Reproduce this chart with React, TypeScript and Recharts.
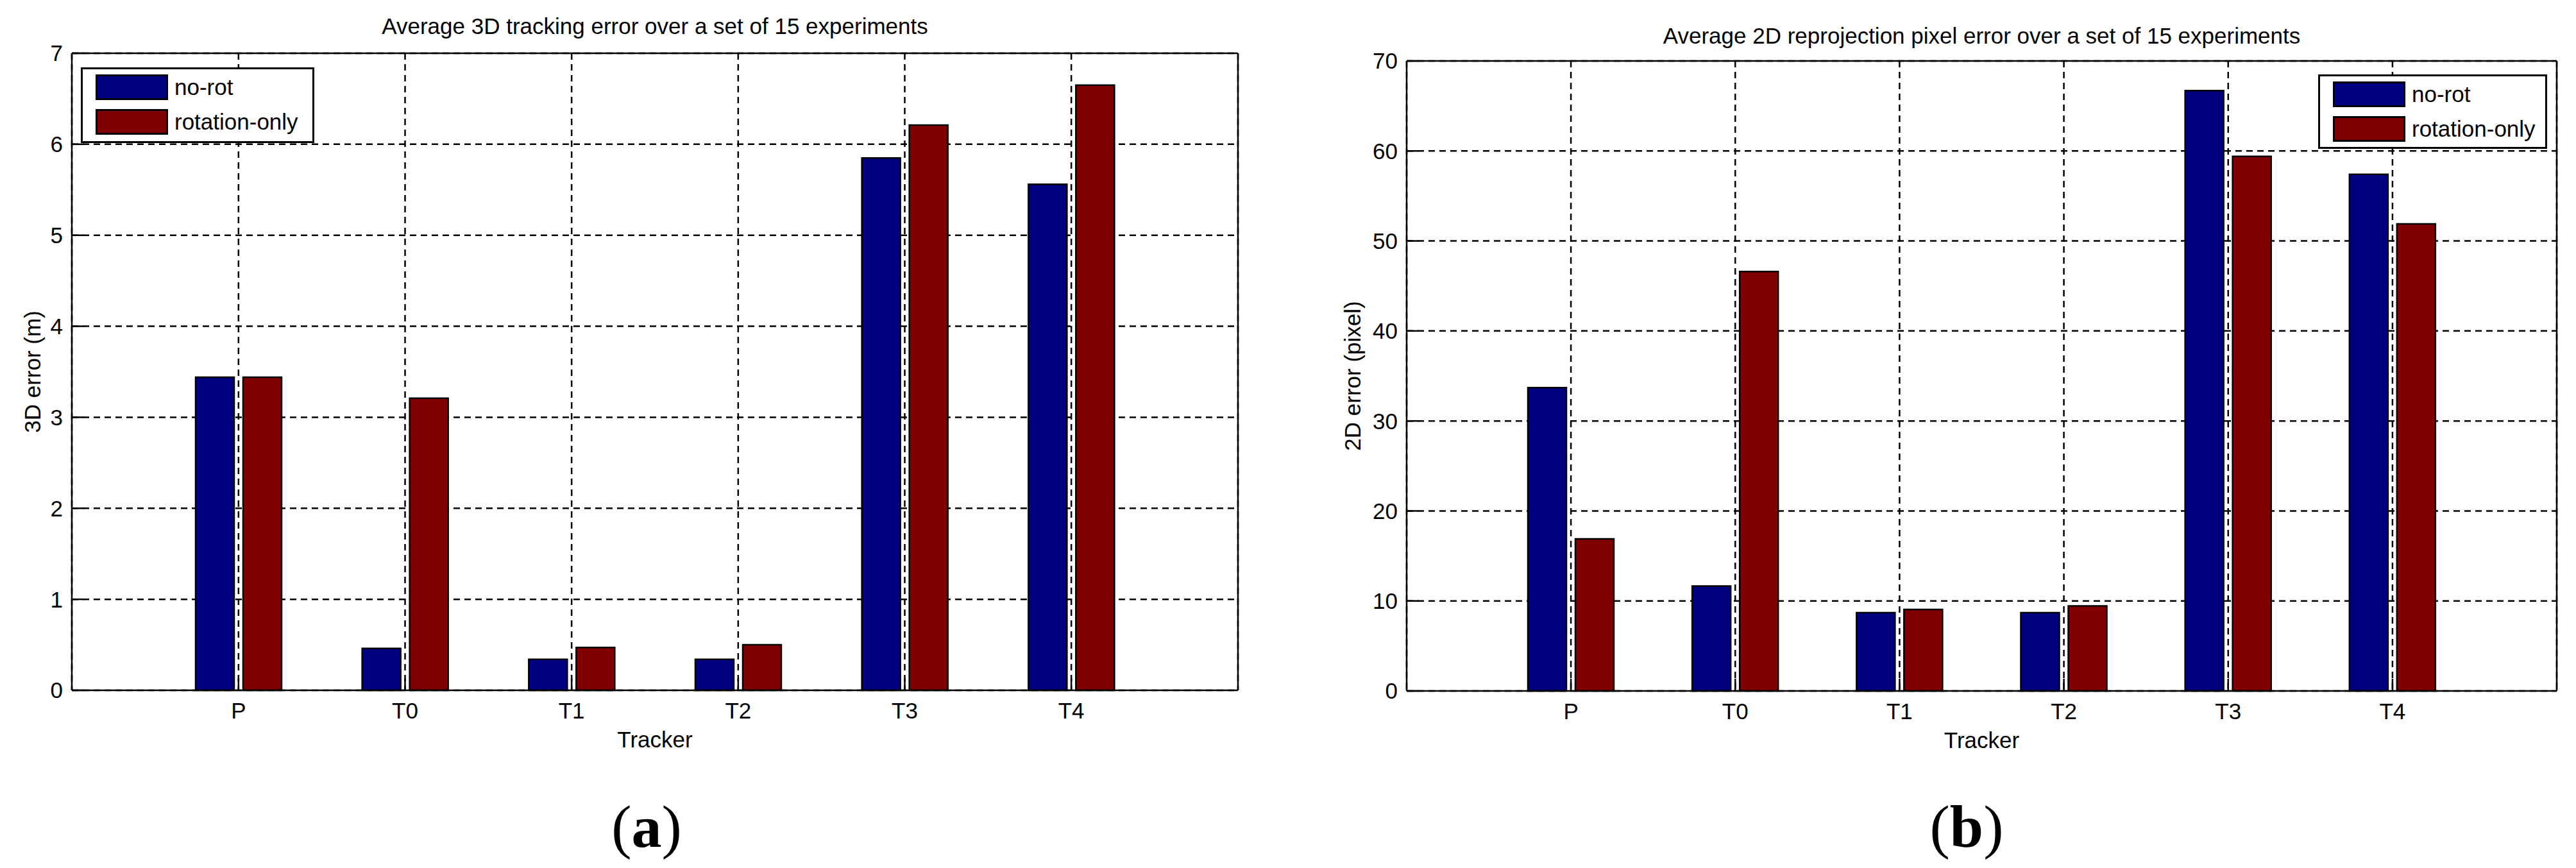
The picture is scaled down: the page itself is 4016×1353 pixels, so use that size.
import React from "react";
import { Bar, BarChart, CartesianGrid, Label, Legend, XAxis, YAxis } from "recharts";

// Two MATLAB-style grouped bar panels: (a) 3D tracking error, (b) 2D reprojection error.
const trackers = ["P", "T0", "T1", "T2", "T3", "T4"];
const seriesNames = ["no-rot", "rotation-only"];
const seriesColors = ["#000080", "#800000"];

const error3dNoRot = [3.44, 0.46, 0.34, 0.34, 5.85, 5.56];
const error3dRotOnly = [3.44, 3.21, 0.47, 0.5, 6.21, 6.65];
const error2dNoRot = [33.7, 11.65, 8.7, 8.7, 66.7, 57.4];
const error2dRotOnly = [16.9, 46.6, 9.05, 9.45, 59.4, 51.9];

const ticks3d = [0, 1, 2, 3, 4, 5, 6, 7];
const ticks2d = [0, 10, 20, 30, 40, 50, 60, 70];

const FONT = '"Liberation Sans", Arial, Helvetica, sans-serif';
const SERIF = '"Liberation Serif", "Times New Roman", Times, serif';
const PANEL_W = 2008;
const PANEL_H = 1353;

type Margin = { top: number; right: number; bottom: number; left: number };

type PanelProps = {
  left: number;
  noRot: number[];
  rotOnly: number[];
  ticks: number[];
  title: string;
  yLabel: string;
  letter: string;
  margin: Margin;
  padX: number;
  yLabelOffset: number;
  titleTop: number;
  letterX: number;
  legend: { left: number; top: number; width: number; height: number };
};

function LegendBox({ payload, width, height }: { payload?: any[]; width: number; height: number }) {
  return (
    <div
      style={{
        boxSizing: "border-box",
        width,
        height,
        border: "3px solid #000",
        background: "#fff",
        padding: "8px 0 0 20px",
        fontFamily: FONT,
        fontSize: 35,
        color: "#000",
      }}
    >
      {(payload ?? []).map((p) => (
        <div key={p.value} style={{ display: "flex", alignItems: "center", height: 40, marginBottom: 14 }}>
          <span
            style={{
              boxSizing: "border-box",
              width: 113,
              height: 40,
              background: p.color,
              border: "3px solid #000",
            }}
          />
          <span style={{ marginLeft: 10, lineHeight: "40px", whiteSpace: "nowrap" }}>{p.value}</span>
        </div>
      ))}
    </div>
  );
}

function Panel(props: PanelProps) {
  const { margin, ticks } = props;
  const rows = trackers.map((t, i) => ({ tracker: t, noRot: props.noRot[i], rotOnly: props.rotOnly[i] }));
  const yMax = ticks[ticks.length - 1];
  const plotLeft = margin.left + 100;
  const plotRight = PANEL_W - margin.right - 10;
  const centerX = (plotLeft + plotRight) / 2;
  const tickStyle = { fill: "#000", fontSize: 35, fontFamily: FONT };
  const line = { stroke: "#000", strokeWidth: 2.5 };

  return (
    <div style={{ position: "absolute", left: props.left, top: 0, width: PANEL_W, height: PANEL_H }}>
      <div
        style={{
          position: "absolute",
          left: centerX,
          top: props.titleTop,
          transform: "translateX(-50%)",
          fontFamily: FONT,
          fontSize: 35,
          lineHeight: "35px",
          whiteSpace: "nowrap",
          color: "#000",
        }}
      >
        {props.title}
      </div>
      <BarChart width={PANEL_W} height={PANEL_H} data={rows} margin={margin} barSize={60} barGap={14}>
        <CartesianGrid stroke="#000" strokeWidth={2.5} strokeDasharray="10 7" />
        <XAxis
          dataKey="tracker"
          height={100}
          interval={0}
          padding={{ left: props.padX, right: props.padX }}
          tickSize={-19}
          tickMargin={38}
          tick={tickStyle}
          axisLine={line}
          tickLine={line}
        >
          <Label value="Tracker" position="insideBottom" offset={11} fill="#000" fontSize={35} fontFamily={FONT} />
        </XAxis>
        <XAxis
          xAxisId="top"
          orientation="top"
          dataKey="tracker"
          height={10}
          interval={0}
          padding={{ left: props.padX, right: props.padX }}
          tickSize={-19}
          tick={false}
          axisLine={line}
          tickLine={line}
        />
        <YAxis
          domain={[0, yMax]}
          ticks={ticks}
          interval={0}
          width={100}
          tickSize={-19}
          tickMargin={33}
          tick={tickStyle}
          axisLine={line}
          tickLine={line}
        >
          <Label
            value={props.yLabel}
            angle={-90}
            position="insideLeft"
            offset={props.yLabelOffset}
            fill="#000"
            fontSize={35}
            fontFamily={FONT}
            style={{ textAnchor: "middle" }}
          />
        </YAxis>
        <YAxis
          yAxisId="right"
          orientation="right"
          domain={[0, yMax]}
          ticks={ticks}
          interval={0}
          width={10}
          allowDataOverflow
          tickSize={-19}
          tick={false}
          axisLine={line}
          tickLine={line}
        />
        <Legend
          layout="horizontal"
          verticalAlign="middle"
          align="center"
          wrapperStyle={{
            left: props.legend.left,
            top: props.legend.top,
            width: props.legend.width,
            height: props.legend.height,
          }}
          content={(p: any) => (
            <LegendBox payload={p.payload} width={props.legend.width} height={props.legend.height} />
          )}
        />
        <Bar
          dataKey="noRot"
          name={seriesNames[0]}
          fill={seriesColors[0]}
          stroke="#000"
          strokeWidth={2.5}
          isAnimationActive={false}
        />
        <Bar
          dataKey="rotOnly"
          name={seriesNames[1]}
          fill={seriesColors[1]}
          stroke="#000"
          strokeWidth={2.5}
          isAnimationActive={false}
        />
      </BarChart>
      <div
        style={{
          position: "absolute",
          left: props.letterX,
          top: 1241,
          transform: "translateX(-50%)",
          fontFamily: SERIF,
          fontSize: 94,
          lineHeight: "94px",
          color: "#000",
          whiteSpace: "nowrap",
        }}
      >
        (<b>{props.letter}</b>)
      </div>
    </div>
  );
}

export default function App() {
  return (
    <div style={{ position: "absolute", left: 0, top: 0, width: 4016, height: 1353, background: "#fff" }}>
      <Panel
        left={0}
        noRot={error3dNoRot}
        rotOnly={error3dRotOnly}
        ticks={ticks3d}
        title="Average 3D tracking error over a set of 15 experiments"
        yLabel="3D error (m)"
        letter="a"
        margin={{ top: 73, right: 68, bottom: 177, left: 12 }}
        padX={130}
        yLabelOffset={39}
        titleTop={23}
        letterX={1008}
        legend={{ left: 126, top: 105, width: 364, height: 118 }}
      />
      <Panel
        left={2008}
        noRot={error2dNoRot}
        rotOnly={error2dRotOnly}
        ticks={ticks2d}
        title="Average 2D reprojection pixel error over a set of 15 experiments"
        yLabel="2D error (pixel)"
        letter="b"
        margin={{ top: 85, right: 20, bottom: 176, left: 85 }}
        padX={128}
        yLabelOffset={16}
        titleTop={38}
        letterX={1058}
        legend={{ left: 1606, top: 116, width: 357, height: 116 }}
      />
    </div>
  );
}
